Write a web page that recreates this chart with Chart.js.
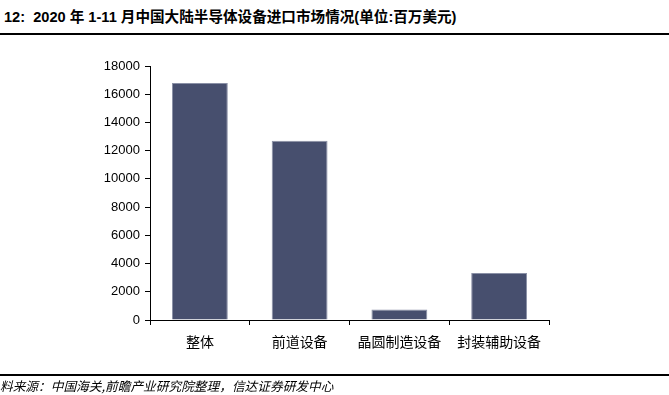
<!DOCTYPE html>
<html>
<head>
<meta charset="utf-8">
<script src="https://cdn.jsdelivr.net/npm/chart.js@4"></script>
<style>
  body { margin: 0; background: #fff; }
  #wrap { position: relative; width: 669px; height: 395px; overflow: hidden; }
  #title { position: absolute; left: 4px; top: 5px; font: bold 14.6px "Liberation Sans", "Noto Sans CJK SC", sans-serif; color: #000; white-space: nowrap; }
  #topLine { position: absolute; left: 0; top: 33px; width: 669px; height: 2px; background: #000; }
  #botLine { position: absolute; left: 0; top: 374px; width: 669px; height: 2px; background: #000; }
  #source { position: absolute; left: 0; top: 376px; font: italic 12.7px "Noto Sans CJK SC", serif; color: #000; white-space: nowrap; }
  canvas { position: absolute; left: 0; top: 0; }
</style>
</head>
<body>
<div id="wrap">
  <div id="title">12:&nbsp; 2020 年 1-11 月中国大陆半导体设备进口市场情况(单位:百万美元)</div>
  <div id="topLine"></div>
  <canvas id="myChart" width="669" height="395"></canvas>
  <div id="botLine"></div>
  <div id="source">料来源：中国海关,前瞻产业研究院整理，信达证券研发中心</div>
</div>
<script>
const categories = ["整体", "前道设备", "晶圆制造设备", "封装辅助设备"];
const values = [16800, 12700, 750, 3330];
const yTicks = [0, 2000, 4000, 6000, 8000, 10000, 12000, 14000, 16000, 18000];

const ctx = document.getElementById("myChart").getContext("2d");
new Chart(ctx, {
    type: "bar",
    data: {
        labels: categories,
        datasets: [
            {
                data: values,
                backgroundColor: "#474f6e",
                borderColor: "#8a90a6",
                borderWidth: { top: 1, left: 1, right: 1, bottom: 0 },
                barPercentage: 0.56,
                categoryPercentage: 1,
            },
        ],
    },
    options: {
        responsive: false,
        animation: false,
        layout: { padding: { left: 0, right: 120, top: 66, bottom: 0 } },
        plugins: {
            legend: { display: false },
            tooltip: { enabled: false },
        },
        scales: {
            x: {
                afterFit: (s) => { s.height = 75; },
                grid: { display: true, drawOnChartArea: false, offset: true, tickLength: 5, color: "#000" },
                border: { color: "#000", width: 1 },
                ticks: { color: "#000", padding: 8, font: { size: 14, family: "Noto Sans CJK SC" } },
            },
            y: {
                min: 0,
                max: 18000,
                afterFit: (s) => { s.width = 150; },
                afterBuildTicks: (s) => { s.ticks = yTicks.map((v) => ({ value: v })); },
                grid: { display: true, drawOnChartArea: false, tickLength: 5, color: "#000" },
                border: { color: "#000", width: 1 },
                ticks: {
                    color: "#000",
                    padding: 5,
                    font: { size: 13, family: "Liberation Sans" },
                    callback: (v) => String(v),
                },
            },
        },
    },
});
</script>
</body>
</html>
